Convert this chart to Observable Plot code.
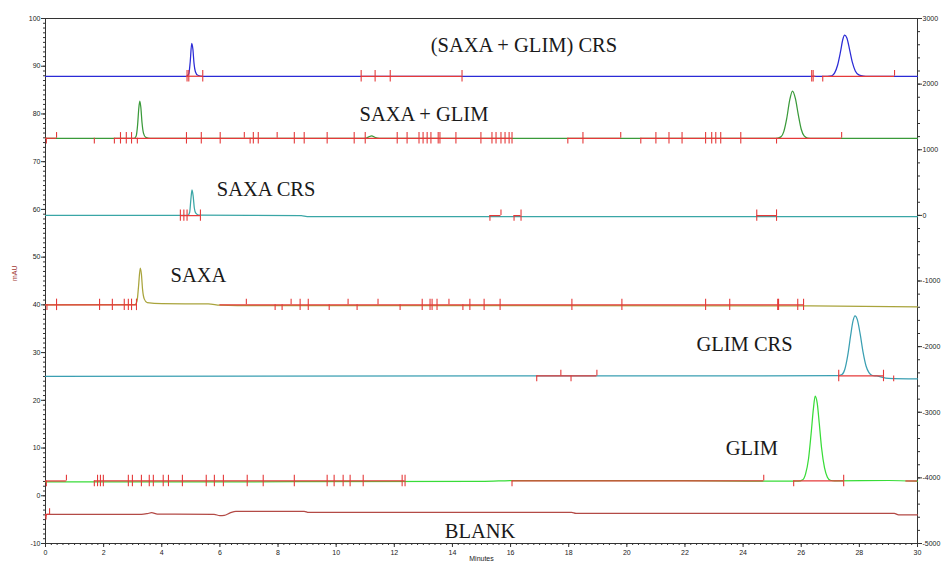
<!DOCTYPE html>
<html><head><meta charset="utf-8">
<script src="https://cdn.jsdelivr.net/npm/d3@7"></script>
<script src="https://cdn.jsdelivr.net/npm/@observablehq/plot@0.6"></script>
<style>body{margin:0;background:#fff} #chart svg{display:block}</style>
</head><body><div id="chart"></div>
<script>
// ---- axis tick labels ----
const xTickLabels = [0,2,4,6,8,10,12,14,16,18,20,22,24,26,28,30];
const yTickLabels = [-10,0,10,20,30,40,50,60,70,80,90,100];
const rightTickLabels = [-5000,-4000,-3000,-2000,-1000,0,1000,2000,3000];
const rightRange = [-5000, 3000];
const leftRange = [-10, 100];

// ---- trace names ----
const traceLabels = ["(SAXA + GLIM) CRS","SAXA + GLIM","SAXA CRS","SAXA","GLIM CRS","GLIM","BLANK"];
const labelTimes  = [16.46, 13.02, 7.59, 5.26, 24.05, 24.3, 14.95];
const labelLevels = [94.4, 79.9, 64.2, 46.1, 31.8, 10.0, -7.4];

// ---- trace points [minutes, mAU] ----
const crsMixPoints = [[0,87.9],[4.85,87.9],[4.93,88.4],[4.98,91.0],[5.03,94.8],[5.07,93.6],[5.11,90.6],[5.16,88.8],[5.24,88.1],[5.4,87.9],[26.9,87.9],[27.05,88.0],[27.15,88.6],[27.25,90.2],[27.35,93.0],[27.43,95.6],[27.49,96.5],[27.57,95.9],[27.66,93.6],[27.76,90.8],[27.86,89.0],[27.98,88.2],[28.15,87.95],[28.3,87.9],[30,87.9]];
const mixPoints = [[0,74.9],[3.05,74.9],[3.12,75.4],[3.17,77.8],[3.21,81.2],[3.245,82.7],[3.28,81.4],[3.32,78.2],[3.37,76.0],[3.45,75.1],[3.6,74.9],[11.0,74.9],[11.12,75.2],[11.22,75.4],[11.35,75.05],[11.5,74.9],[25.15,74.9],[25.3,75.2],[25.4,76.3],[25.5,79.0],[25.6,82.8],[25.7,84.8],[25.8,83.2],[25.9,79.8],[26.0,76.8],[26.1,75.4],[26.22,74.95],[26.4,74.9],[30,74.9]];
const saxaCrsPoints = [[0,58.75],[4.9,58.75],[4.96,59.4],[5.0,62.0],[5.04,64.1],[5.08,62.8],[5.12,60.3],[5.17,59.2],[5.27,58.8],[8.8,58.7],[9.0,58.5],[30,58.5]];
const saxaPoints = [[0,40.0],[3.08,40.05],[3.15,40.8],[3.2,43.8],[3.26,47.7],[3.3,46.4],[3.34,43.2],[3.4,41.2],[3.5,40.45],[4.0,40.25],[5.6,40.2],[6.0,39.95],[6.6,39.85],[26.1,39.8],[30,39.6]];
const glimCrsPoints = [[0,25.0],[16,25.1],[27.25,25.15],[27.4,25.4],[27.5,26.5],[27.6,29.4],[27.7,33.6],[27.78,36.6],[27.85,37.7],[27.93,36.9],[28.03,33.8],[28.13,30.0],[28.23,27.2],[28.33,25.8],[28.45,25.2],[28.6,25.1],[29.0,24.6],[30,24.5]];
const glimPoints = [[0,2.9],[15,3.0],[16.2,3.2],[22,3.15],[25.9,3.05],[26.05,3.35],[26.15,4.6],[26.25,7.7],[26.34,13.0],[26.42,18.3],[26.48,20.9],[26.55,19.4],[26.62,15.2],[26.7,10.0],[26.8,5.9],[26.9,3.9],[27.0,3.25],[27.15,3.1],[29,3.2],[30,3.05]];
const blankPoints = [[0,-4.4],[0.05,-3.9],[3.3,-3.9],[3.5,-3.75],[3.65,-3.55],[3.85,-3.85],[5.8,-3.9],[6.0,-4.15],[6.15,-4.1],[6.35,-3.6],[6.55,-3.25],[8.9,-3.25],[9.05,-3.5],[18.1,-3.5],[18.25,-3.7],[29.2,-3.7],[29.35,-4.0],[30,-4.0]];

// ---- integration baselines (mAU) ----
const baselineLevels = [87.9, 74.9, 58.7, 40.0, 25.1, 3.1, -3.9];

// ---- integration event marks [minutes, direction: 1 up, -1 down, 0 both] ----
const crsMixTicks = [[4.87,0],[4.93,0],[5.41,0],[10.86,0],[11.34,0],[11.86,0],[14.33,0],[26.36,0],[26.41,0],[26.74,-1],[29.21,1]];
const mixTicks = [[0.03,-1],[0.38,1],[1.68,-1],[2.37,-1],[2.58,0],[2.78,0],[2.96,0],[3.16,-1],[4.85,0],[5.36,0],[6.01,0],[6.84,1],[7.04,-1],[7.15,0],[7.32,0],[7.97,1],[8.56,0],[8.9,0],[9.69,0],[10.62,0],[11.0,0],[12.1,0],[12.44,0],[12.85,0],[12.99,0],[13.13,0],[13.26,0],[13.51,0],[13.57,0],[14.12,0],[14.98,0],[15.36,0],[15.5,0],[15.67,0],[15.81,0],[15.95,0],[16.05,0],[17.97,-1],[18.49,0],[19.79,1],[20.48,-1],[21.0,0],[21.45,0],[21.9,0],[22.71,0],[22.92,0],[23.06,0],[23.23,0],[23.92,0],[25.15,-1],[27.39,1]];
const saxaCrsTicks = [[4.64,0],[4.76,0],[4.87,0],[5.33,0],[15.29,-1],[15.67,1],[16.12,-1],[16.36,0],[24.47,0],[25.15,0]];
const saxaTicks = [[0.05,-1],[0.38,0],[1.86,0],[2.3,0],[2.71,0],[2.85,0],[2.96,0],[3.13,0],[6.91,1],[7.9,-1],[8.14,-1],[8.45,1],[8.76,0],[9.04,0],[9.76,-1],[10.41,1],[10.72,-1],[11.44,1],[12.2,-1],[12.96,0],[13.23,0],[13.3,0],[13.47,0],[13.88,1],[14.36,-1],[14.6,0],[15.09,0],[15.64,0],[18.11,0],[19.83,0],[22.71,0],[23.54,0],[25.19,0],[25.22,0],[25.88,0],[26.08,0]];
const glimCrsTicks = [[16.9,-1],[17.73,1],[18.08,-1],[18.97,1],[27.29,0],[28.83,0],[29.18,-1]];
const glimTicks = [[0.03,-1],[0.72,1],[1.68,-1],[1.79,0],[1.89,0],[1.99,0],[2.85,0],[2.99,0],[3.3,0],[3.57,0],[3.71,0],[4.05,0],[4.23,0],[4.71,0],[5.53,0],[5.81,0],[6.12,0],[6.94,0],[7.49,0],[8.56,0],[9.69,0],[9.93,0],[10.24,0],[10.48,0],[10.93,0],[12.27,0],[12.37,0],[16.05,-1],[24.71,1],[25.74,-1],[27.46,0]];
const blankTicks = [[0.02,-1],[0.14,1]];

// ---- red integration baseline spans [start, end] minutes ----
const crsMixRed = [[4.85,5.42],[10.86,14.33],[26.36,26.5],[26.74,29.21]];
const mixRed = [[0,0.38],[2.37,16.05],[17.97,19.79],[20.48,27.39]];
const saxaCrsRed = [[4.64,5.33],[15.29,15.67],[16.12,16.36],[24.47,25.15]];
const saxaRed = [[0,3.13],[6.0,26.08]];
const glimCrsRed = [[16.9,18.97],[27.29,28.83]];
const glimRed = [[0,0.72],[1.68,12.37],[16.05,24.71],[25.74,27.46],[29.6,30]];
const blankRed = [[0,0.14]];

// ---- styles ----
const traceColors = ["#2b2bd6","#3a9a3a","#3aa6a6","#a9a43c","#3a9fb2","#38dc38","#b34a46"];
const integColor = "#e53a3a";

const traces = [
  {pts: crsMixPoints, ticks: crsMixTicks, red: crsMixRed},
  {pts: mixPoints, ticks: mixTicks, red: mixRed},
  {pts: saxaCrsPoints, ticks: saxaCrsTicks, red: saxaCrsRed},
  {pts: saxaPoints, ticks: saxaTicks, red: saxaRed},
  {pts: glimCrsPoints, ticks: glimCrsTicks, red: glimCrsRed},
  {pts: glimPoints, ticks: glimTicks, red: glimRed},
  {pts: blankPoints, ticks: blankTicks, red: blankRed}
].map((t, i) => ({...t, base: baselineLevels[i], color: traceColors[i]}));

const redData = traces.flatMap(tr => tr.red.map(([a, b]) => ({a, b, y: tr.base})));
const half = 1.2;
const tickData = traces.flatMap(tr => tr.ticks.map(([t, d]) => ({
  t, y1: tr.base + (d > 0 ? 0 : -half), y2: tr.base + (d < 0 ? 0 : half)
})));

// right axis mapping into left scale units
const toLeft = r => leftRange[0] + (r - rightRange[0]) * (leftRange[1] - leftRange[0]) / (rightRange[1] - rightRange[0]);
const fromLeft = v => rightRange[0] + (v - leftRange[0]) * (rightRange[1] - rightRange[0]) / (leftRange[1] - leftRange[0]);

const labels = traceLabels.map((s, i) => ({s, t: labelTimes[i], v: labelLevels[i]}));

const axisFont = "Liberation Sans, Arial, sans-serif";

const chart = Plot.plot({
  width: 943,
  height: 565,
  marginLeft: 45,
  marginRight: 26,
  marginTop: 18,
  marginBottom: 22,
  style: {fontFamily: axisFont, fontSize: "7px", color: "#222", background: "#fff"},
  x: {domain: [0, 30], label: null},
  y: {domain: leftRange, label: null},
  marks: [
    Plot.frame({stroke: "#333", strokeWidth: 1}),
    Plot.axisX({ticks: d3.range(0, 30.001, 0.2), tickSize: 2, tickFormat: () => "", stroke: "#333"}),
    Plot.axisY({ticks: d3.range(-10, 100.001, 1), tickSize: 2, tickFormat: () => "", stroke: "#333"}),
    Plot.axisY({anchor: "right", ticks: d3.range(-5000, 3000.001, 200).map(toLeft), tickSize: 2, tickFormat: () => "", stroke: "#333"}),
    Plot.axisX({ticks: xTickLabels, tickSize: 4, tickPadding: 3, tickFormat: d => String(d), fontSize: 7, stroke: "#333"}),
    Plot.axisY({ticks: yTickLabels, tickSize: 4, tickPadding: 1, tickFormat: d => String(d), fontSize: 7, stroke: "#333"}),
    Plot.axisY({anchor: "right", ticks: rightTickLabels.map(toLeft), tickSize: 4, tickPadding: 1,
      tickFormat: v => String(Math.round(fromLeft(v))), fontSize: 7, stroke: "#333"}),
    ...traces.map(tr => Plot.line(tr.pts, {x: d => d[0], y: d => d[1], stroke: tr.color, strokeWidth: 1.25, curve: "monotone-x"})),
    Plot.ruleY(redData, {y: "y", x1: "a", x2: "b", stroke: integColor, strokeWidth: 1.25}),
    Plot.ruleX(tickData, {x: "t", y1: "y1", y2: "y2", stroke: integColor, strokeWidth: 1.1}),
    Plot.text(labels, {x: "t", y: "v", text: "s", fontFamily: "Liberation Serif, Times New Roman, serif", fontSize: 20.5, fill: "#1a1a1a"}),
    Plot.text(["mAU"], {frameAnchor: "left", dx: -31, rotate: -90, fill: "#a33a33", fontSize: 7}),
    Plot.text(["Minutes"], {frameAnchor: "bottom", dy: 17, fill: "#222", fontSize: 7})
  ]
});
document.getElementById("chart").appendChild(chart);
</script>
</body></html>
